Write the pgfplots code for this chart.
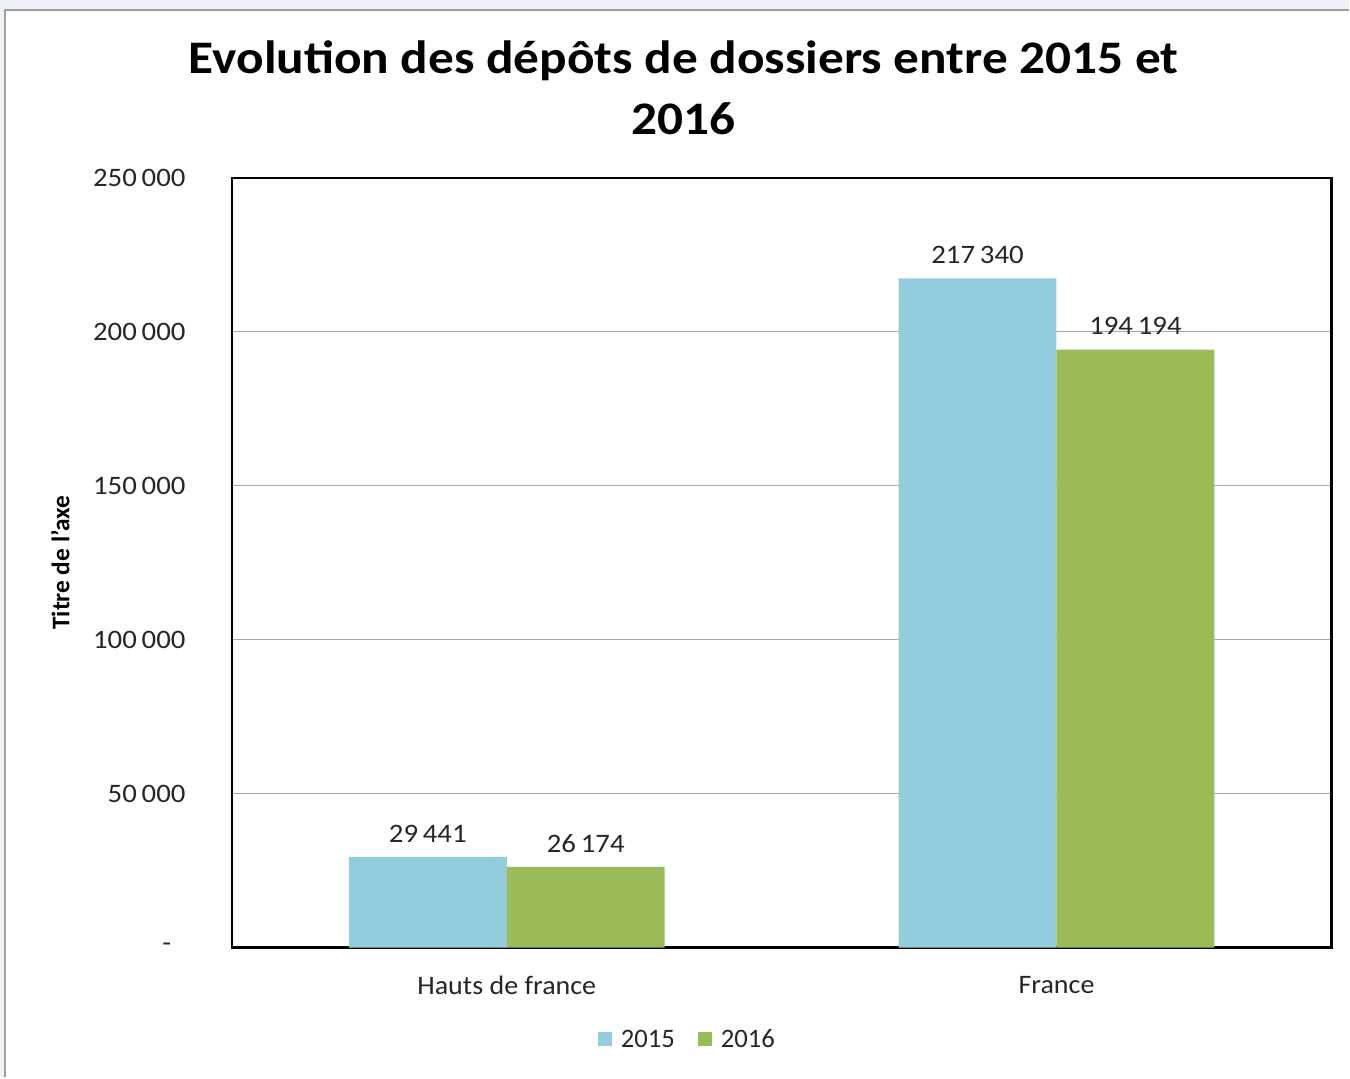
\documentclass[border=0pt]{standalone}
\usepackage{pgfplots}
\pgfplotsset{compat=1.18}
\usepackage{fontspec}
\setmainfont{Carlito}
\definecolor{cA}{HTML}{93CDDD}
\definecolor{cB}{HTML}{9BBB59}
\definecolor{frame}{HTML}{A0A0A0}
\definecolor{topbg}{HTML}{EEF1F6}
\begin{document}
\begin{tikzpicture}
% page background (1350x1078 px, 1px = 0.75pt)
\fill[white] (0,0) rectangle (1012.5pt,808.5pt);
\fill[topbg] (0,801pt) rectangle (1012.5pt,808.5pt);
\fill[topbg] (0,0) rectangle (3.75pt,808.5pt);
\draw[frame, line width=1pt] (3.75pt,0) -- (3.75pt,801pt) -- (1012.5pt,801pt);
% title
\node[xscale=1.1, font=\fontsize{35}{38}\selectfont\bfseries] at (513pt,763pt) {Evolution des dépôts de dossiers entre 2015 et};
\node[xscale=1.1, font=\fontsize{35}{38}\selectfont\bfseries] at (513pt,719.5pt) {2016};
\begin{axis}[
  at={(174pt,97.5pt)}, anchor=south west,
  scale only axis, width=825pt, height=577.5pt,
  xmin=-0.5, xmax=1.5, ymin=0, ymax=250000,
  scaled y ticks=false,
  ybar=0pt, bar width=0.2873,
  xtick={0,1}, xticklabels={Hauts de france, France},
  ytick={0,50000,100000,150000,200000,250000},
  yticklabels={{-\rule{10pt}{0pt}},{50\,000},{100\,000},{150\,000},{200\,000},{250\,000}},
  major tick length=0pt,
  tick label style={font=\fontsize{20}{24}\selectfont, text=black!85},
  yticklabel style={xshift=-31pt, xscale=1.08},
  xticklabel style={yshift=-18pt, xscale=1.05},
  ymajorgrids, grid style={gray!70, line width=0.75pt},
  axis line style={black, line width=1.9pt},
  ylabel={Titre de l'axe},
  ylabel style={at={(axis description cs:-0.156,0.5)}, anchor=center, font=\fontsize{19}{21}\selectfont\bfseries},
  point meta=explicit symbolic,
  nodes near coords,
  nodes near coords style={font=\fontsize{20}{24}\selectfont, text=black!85, anchor=south, yshift=7.5pt, xscale=1.08},
  legend style={at={(0.4145,-0.1195)}, anchor=center, draw=none, legend columns=2,
     font=\fontsize{20}{24}\selectfont, text=black!85,
     /tikz/every odd column/.append style={column sep=5pt},
     /tikz/every even column/.append style={column sep=15pt}},
  legend image code/.code={\fill[#1, draw=none] (0pt,-5pt) rectangle (10.5pt,5.5pt);},
]
\addplot[fill=cA, draw=none] coordinates {(0,29441) [29\,441] (1,217340) [217\,340]};
\addplot[fill=cB, draw=none] coordinates {(0,26174) [26\,174] (1,194194) [194\,194]};
\legend{2015,2016}
\end{axis}
\end{tikzpicture}
\end{document}
